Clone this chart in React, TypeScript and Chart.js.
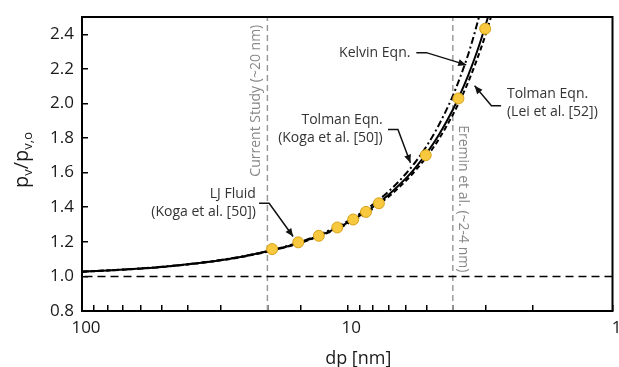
import { useEffect, useRef } from "react";
import { Chart, registerables } from "chart.js";

Chart.register(...registerables);

// Droplet diameter grid (nm) for the model curves
const DIAMETERS = [100, 80, 60, 50, 40, 30, 25, 20, 17, 15, 13, 11, 10, 9, 8, 7, 6, 5.5, 5, 4.5, 4, 3.75, 3.5, 3.25, 3.0, 2.85, 2.7];
// p_v / p_v,o along each curve
const KELVIN = [1.028, 1.035, 1.046, 1.056, 1.070, 1.095, 1.115, 1.146, 1.174, 1.200, 1.236, 1.285, 1.318, 1.360, 1.416, 1.490, 1.595, 1.667, 1.758, 1.880, 2.044, 2.153, 2.283, 2.452, 2.664, 2.830, 3.000];
const TOLMAN_KOGA = [1.027, 1.034, 1.046, 1.055, 1.070, 1.094, 1.114, 1.145, 1.172, 1.197, 1.231, 1.278, 1.310, 1.350, 1.401, 1.471, 1.568, 1.634, 1.716, 1.822, 1.964, 2.054, 2.163, 2.295, 2.460, 2.578, 2.718];
const TOLMAN_LEI = [1.027, 1.034, 1.045, 1.054, 1.069, 1.093, 1.112, 1.143, 1.170, 1.194, 1.227, 1.273, 1.304, 1.343, 1.392, 1.460, 1.554, 1.617, 1.695, 1.797, 1.935, 2.020, 2.124, 2.250, 2.405, 2.518, 2.650];

// LJ fluid simulation results
const LJ_DIAMETERS = [19.2, 15.3, 12.8, 10.9, 9.5, 8.5, 7.6, 5.06, 3.81, 3.02];
const LJ_RATIO = [1.158, 1.197, 1.235, 1.283, 1.329, 1.373, 1.423, 1.701, 2.029, 2.432];

// Axis settings
const X_LABELS = [100, 10, 1];
const X_MIN = 1;
const X_MAX = 100;
const Y_MIN = 0.8;
const Y_MAX = 2.5;
const Y_STEP = 0.2;

// Reference lines
const FLAT_RATIO = 1.0;
const CURRENT_STUDY_D = 20;
const EREMIN_D = 4;

// Callout labels with leader arrows, anchored in data space (d, ratio)
type Callout = { lines: string[]; align: CanvasTextAlign; at: [number, number]; path: [number, number][] };
const CALLOUTS: Callout[] = [
  { lines: ["Kelvin Eqn."], align: "right", at: [5.78, 2.292], path: [[5.49, 2.294], [5.03, 2.294], [3.56, 2.223]] },
  { lines: ["Tolman Eqn.", "(Koga et al. [50])"], align: "right", at: [7.35, 1.906], path: [[7.02, 1.849], [6.44, 1.849], [5.78, 1.657]] },
  { lines: ["Tolman Eqn.", "(Lei et al. [52])"], align: "left", at: [2.5, 2.054], path: [[2.63, 1.987], [2.86, 1.987], [3.31, 2.102]] },
  { lines: ["LJ Fluid", "(Koga et al. [50])"], align: "right", at: [22.1, 1.475], path: [[21.5, 1.423], [19.7, 1.423], [16.0, 1.231]] },
];
const VERTICAL_NOTES = [
  { text: "Current Study (~20 nm)", at: [22.1, 2.016], angle: -90 },
  { text: "Eremin et al. (~2-4 nm)", at: [3.67, 1.449], angle: 90 },
];

const FONT = "'Open Sans', sans-serif";

const pairs = (xs: number[], ys: number[]) => xs.map((x, i) => ({ x, y: ys[i] }));

const overlayPlugin = {
  id: "overlay",
  afterDatasetsDraw(chart: any) {
    const { ctx, chartArea: a, scales } = chart;
    const xs = scales.x;
    const ys = scales.y;
    const px = (d: number) => xs.getPixelForValue(d);
    const py = (v: number) => ys.getPixelForValue(v);
    ctx.save();

    // plot frame
    ctx.strokeStyle = "#000";
    ctx.lineWidth = 2;
    ctx.strokeRect(a.left, a.top, a.right - a.left, a.bottom - a.top);

    // callouts
    ctx.font = `14px ${FONT}`;
    ctx.textBaseline = "middle";
    for (const c of CALLOUTS) {
      ctx.fillStyle = "#333";
      ctx.textAlign = c.align;
      const tx = px(c.at[0]);
      const ty = py(c.at[1]);
      c.lines.forEach((line, i) => ctx.fillText(line, tx, ty + i * 18));
      const pts = c.path.map(([d, v]) => [px(d), py(v)]);
      ctx.strokeStyle = "#111";
      ctx.lineWidth = 1.5;
      ctx.beginPath();
      pts.forEach(([x, y], i) => (i ? ctx.lineTo(x, y) : ctx.moveTo(x, y)));
      ctx.stroke();
      const [x1, y1] = pts[pts.length - 2];
      const [x2, y2] = pts[pts.length - 1];
      const ang = Math.atan2(y2 - y1, x2 - x1);
      const L = 8;
      const W = 3.5;
      ctx.fillStyle = "#111";
      ctx.beginPath();
      ctx.moveTo(x2, y2);
      ctx.lineTo(x2 - L * Math.cos(ang) + W * Math.sin(ang), y2 - L * Math.sin(ang) - W * Math.cos(ang));
      ctx.lineTo(x2 - L * Math.cos(ang) - W * Math.sin(ang), y2 - L * Math.sin(ang) + W * Math.cos(ang));
      ctx.closePath();
      ctx.fill();
    }

    // rotated notes beside the reference lines
    ctx.fillStyle = "#888";
    ctx.textAlign = "center";
    ctx.textBaseline = "middle";
    for (const n of VERTICAL_NOTES) {
      ctx.save();
      ctx.translate(px(n.at[0]), py(n.at[1]));
      ctx.rotate((n.angle * Math.PI) / 180);
      ctx.fillText(n.text, 0, 0);
      ctx.restore();
    }

    // x-axis title
    ctx.fillStyle = "#1a1a1a";
    ctx.font = `18px ${FONT}`;
    ctx.textAlign = "center";
    ctx.textBaseline = "alphabetic";
    ctx.fillText("dp [nm]", (a.left + a.right) / 2 + 11, 364);

    // y-axis title with subscripts: p_v / p_v,o
    ctx.save();
    ctx.translate(28, (a.top + a.bottom) / 2 - 4);
    ctx.rotate(-Math.PI / 2);
    const parts: [string, boolean][] = [["p", false], ["v", true], ["/p", false], ["v,o", true]];
    const fontFor = (sub: boolean) => (sub ? `13px ${FONT}` : `20px ${FONT}`);
    let total = 0;
    for (const [t, sub] of parts) {
      ctx.font = fontFor(sub);
      total += ctx.measureText(t).width;
    }
    let cx = -total / 2;
    ctx.textAlign = "left";
    for (const [t, sub] of parts) {
      ctx.font = fontFor(sub);
      ctx.fillText(t, cx, sub ? 4 : 0);
      cx += ctx.measureText(t).width;
    }
    ctx.restore();

    ctx.restore();
  },
};

export default function App() {
  const canvasRef = useRef<HTMLCanvasElement | null>(null);

  useEffect(() => {
    if (!canvasRef.current) return;
    const tickFont = { family: FONT, size: 17 };
    const chart = new Chart(canvasRef.current, {
      type: "scatter",
      data: {
        datasets: [
          {
            label: "LJ Fluid",
            data: pairs(LJ_DIAMETERS, LJ_RATIO),
            showLine: false,
            pointRadius: 5.5,
            pointBackgroundColor: "#F8C93E",
            pointBorderColor: "#D6A117",
            pointBorderWidth: 1,
            order: 0,
          },
          {
            label: "Tolman Eqn. (Koga et al. [50])",
            data: pairs(DIAMETERS, TOLMAN_KOGA),
            showLine: true,
            pointRadius: 0,
            borderColor: "#000",
            borderWidth: 2,
            cubicInterpolationMode: "monotone",
            order: 1,
          },
          {
            label: "Tolman Eqn. (Lei et al. [52])",
            data: pairs(DIAMETERS, TOLMAN_LEI),
            showLine: true,
            pointRadius: 0,
            borderColor: "#000",
            borderWidth: 2,
            borderDash: [5, 3],
            cubicInterpolationMode: "monotone",
            order: 2,
          },
          {
            label: "Kelvin Eqn.",
            data: pairs(DIAMETERS, KELVIN),
            showLine: true,
            pointRadius: 0,
            borderColor: "#000",
            borderWidth: 2,
            borderDash: [7, 3, 2, 3],
            cubicInterpolationMode: "monotone",
            order: 3,
          },
          {
            label: "p/p0 = 1",
            data: [{ x: X_MIN, y: FLAT_RATIO }, { x: X_MAX, y: FLAT_RATIO }],
            showLine: true,
            pointRadius: 0,
            borderColor: "#000",
            borderWidth: 1.5,
            borderDash: [8, 5],
            order: 4,
          },
          {
            label: "Current study",
            data: [{ x: CURRENT_STUDY_D, y: Y_MIN }, { x: CURRENT_STUDY_D, y: Y_MAX }],
            showLine: true,
            pointRadius: 0,
            borderColor: "#9a9a9a",
            borderWidth: 1.5,
            borderDash: [6, 4],
            order: 5,
          },
          {
            label: "Eremin et al.",
            data: [{ x: EREMIN_D, y: Y_MIN }, { x: EREMIN_D, y: Y_MAX }],
            showLine: true,
            pointRadius: 0,
            borderColor: "#9a9a9a",
            borderWidth: 1.5,
            borderDash: [6, 4],
            order: 5,
          },
        ],
      },
      options: {
        responsive: false,
        animation: false,
        devicePixelRatio: 1,
        layout: { padding: { top: 17, right: 6, left: 0, bottom: 0 } },
        plugins: { legend: { display: false }, tooltip: { enabled: false } },
        scales: {
          x: {
            type: "logarithmic",
            reverse: true,
            min: X_MIN,
            max: X_MAX,
            position: "bottom",
            afterFit: (s: any) => {
              s.height = 56;
              s.paddingLeft = 0;
              s.paddingRight = 0;
            },
            border: { display: false },
            grid: { drawOnChartArea: false, drawTicks: true, tickLength: -6, color: "#000", lineWidth: 1.5 },
            ticks: {
              autoSkip: false,
              maxRotation: 0,
              padding: 13,
              labelOffset: 4,
              color: "#1a1a1a",
              font: tickFont,
              callback: (v: any) => (X_LABELS.some((l) => Math.abs(l - Number(v)) < 1e-9) ? String(v) : ""),
            },
          },
          y: {
            type: "linear",
            min: Y_MIN,
            max: Y_MAX,
            afterFit: (s: any) => {
              s.width = 82;
              s.paddingTop = 0;
              s.paddingBottom = 0;
            },
            border: { display: false },
            grid: { drawOnChartArea: false, drawTicks: true, tickLength: -6, color: "#000", lineWidth: 1.5 },
            ticks: {
              stepSize: Y_STEP,
              includeBounds: false,
              padding: 14,
              color: "#1a1a1a",
              font: tickFont,
              callback: (v: any) => Number(v).toFixed(1),
            },
          },
        },
      },
      plugins: [overlayPlugin],
    } as any);
    return () => chart.destroy();
  }, []);

  return (
    <div style={{ position: "fixed", left: 0, top: 0, width: 619, height: 367, background: "#fff" }}>
      <canvas ref={canvasRef} width={619} height={367} />
    </div>
  );
}
